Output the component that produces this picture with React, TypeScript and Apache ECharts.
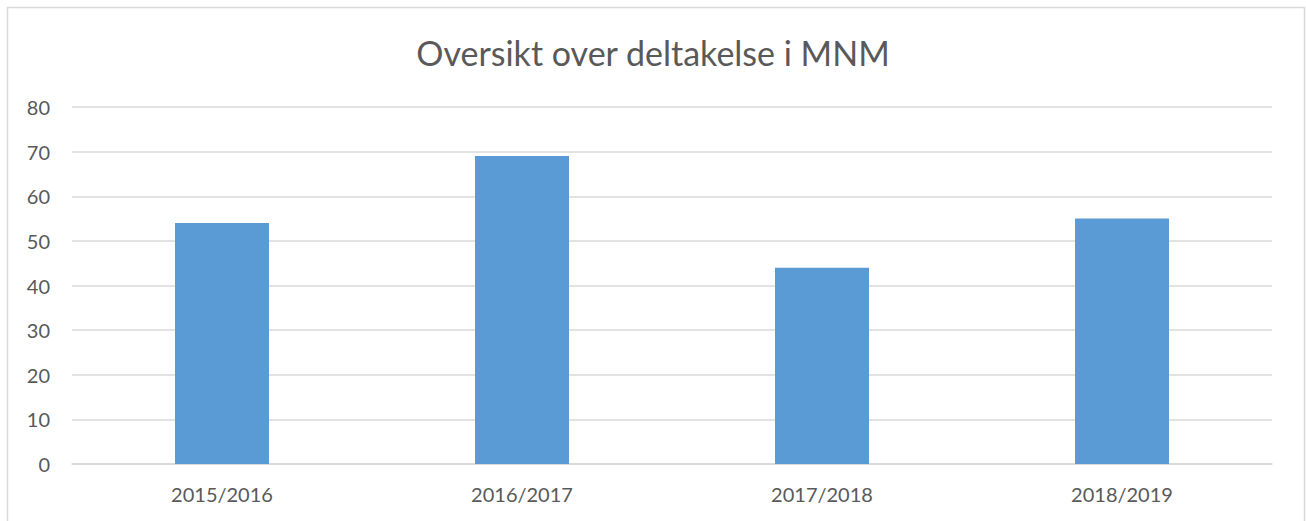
import React, { useEffect, useRef } from "react";
import * as echarts from "echarts";

const categories = ["2015/2016", "2016/2017", "2017/2018", "2018/2019"];
const values = [54, 69, 44, 55];
const titleText = "Oversikt over deltakelse i MNM";

export default function App() {
  const ref = useRef<HTMLDivElement>(null);
  useEffect(() => {
    document.body.style.margin = "0";
    const chart = echarts.init(ref.current!, null, { renderer: "svg" });
    const font = "Lato, 'Open Sans', sans-serif";
    chart.setOption({
      animation: false,
      title: {
        text: titleText,
        left: "center",
        top: 30,
        textStyle: { fontFamily: font, fontSize: 34, fontWeight: "normal", color: "#595959" },
      },
      graphic: [
        {
          type: "rect",
          shape: { x: 7.5, y: 7.5, width: 1297, height: 530 },
          style: { fill: "none", stroke: "#d9d9d9", lineWidth: 1.5 },
          silent: true,
        },
      ],
      grid: { left: 72, right: 34, top: 107, bottom: 57 },
      xAxis: {
        type: "category",
        data: categories,
        axisLine: { show: true, lineStyle: { color: "#d9d9d9", width: 1.5 } },
        axisTick: { show: false },
        axisLabel: { fontFamily: font, fontSize: 20, color: "#595959", margin: 20 },
      },
      yAxis: {
        type: "value",
        min: 0,
        max: 80,
        interval: 10,
        axisLine: { show: false },
        axisTick: { show: false },
        splitLine: { lineStyle: { color: "#d9d9d9", width: 1.5 } },
        axisLabel: { fontFamily: font, fontSize: 20, color: "#595959", margin: 22 },
      },
      series: [
        {
          type: "bar",
          data: values,
          barWidth: 94,
          itemStyle: { color: "#5b9bd5" },
        },
      ],
    });
    return () => chart.dispose();
  }, []);
  return <div ref={ref} style={{ width: 1306, height: 521 }} />;
}
